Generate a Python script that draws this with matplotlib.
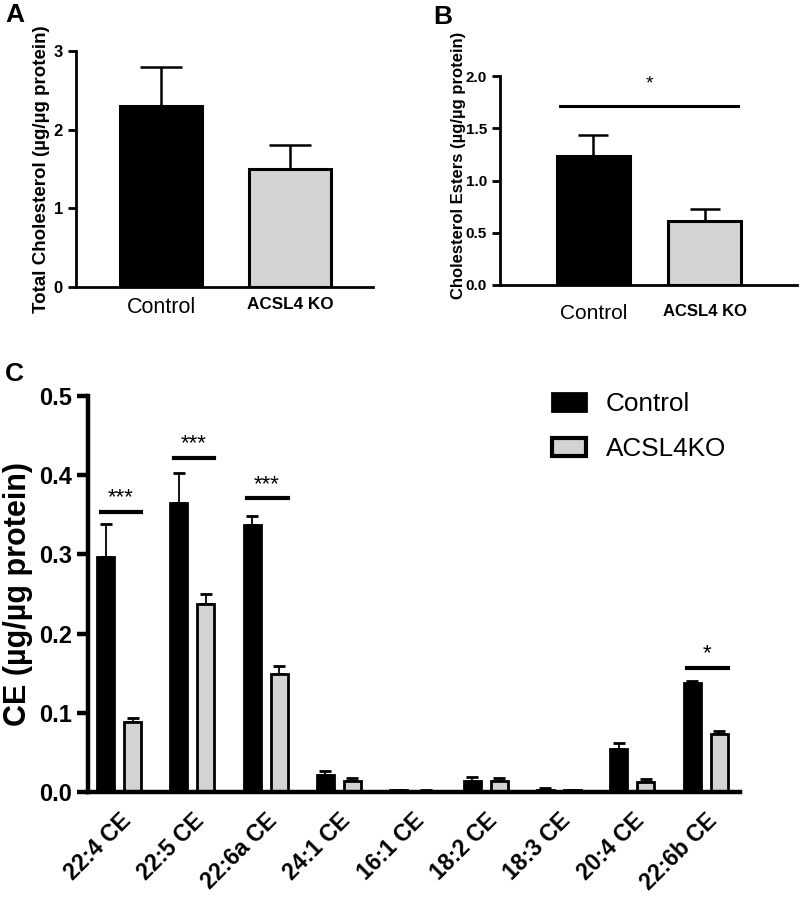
import matplotlib
matplotlib.use("Agg")
import matplotlib.pyplot as plt
import numpy as np
from matplotlib.patches import Patch

plt.rcParams['font.family'] = ['Liberation Sans', 'DejaVu Sans']

# Panel A data
a_groups = ["Control", "ACSL4 KO"]
a_means = [2.3, 1.5]
a_sem = [0.5, 0.3]

# Panel B data
b_groups = ["Control", "ACSL4 KO"]
b_means = [1.23, 0.61]
b_sem = [0.21, 0.12]

# Panel C data
species = ["22:4 CE", "22:5 CE", "22:6a CE", "24:1 CE", "16:1 CE",
           "18:2 CE", "18:3 CE", "20:4 CE", "22:6b CE"]
ctrl_means = [0.297, 0.365, 0.337, 0.022, 0.002, 0.014, 0.003, 0.054, 0.137]
ctrl_sem = [0.041, 0.038, 0.011, 0.005, 0.001, 0.005, 0.002, 0.008, 0.003]
ko_means = [0.088, 0.237, 0.149, 0.014, 0.001, 0.014, 0.002, 0.013, 0.073]
ko_sem = [0.005, 0.013, 0.010, 0.004, 0.001, 0.004, 0.001, 0.003, 0.004]
sig_idx = [0, 1, 2, 8]
sig_y = [0.354, 0.422, 0.371, 0.157]
sig_txt = ["***", "***", "***", "*"]

GREY = "#d3d3d3"
W, H = 800, 902
fig = plt.figure(figsize=(W / 100, H / 100), dpi=100)


def box(l, r, t, b):
    return [l / W, 1 - b / H, (r - l) / W, (b - t) / H]


def style(ax, lw, tl, fs):
    for s in ["top", "right"]:
        ax.spines[s].set_visible(False)
    for s in ["left", "bottom"]:
        ax.spines[s].set_linewidth(lw)
    ax.tick_params(axis="y", length=tl, width=lw, labelsize=fs, direction="out")
    ax.tick_params(axis="x", length=0)
    for t in ax.get_yticklabels():
        t.set_fontweight("bold")


# ---- A ----
axA = fig.add_axes(box(76, 373, 51, 287))
x = np.arange(2)
axA.bar(x, a_means, width=0.64, color=["black", GREY], edgecolor="black", linewidth=2.2, zorder=2)
axA.errorbar(x, a_means, yerr=[[0, 0], a_sem], fmt="none", ecolor="black",
             elinewidth=1.8, capsize=15, capthick=1.8, zorder=1)
axA.set_xlim(-0.659, 1.643)
axA.set_ylim(0, 3)
axA.set_yticks([0, 1, 2, 3])
axA.set_xticks(x)
axA.set_xticklabels(a_groups)
style(axA, 2, 6, 12)
tl = axA.get_xticklabels()
tl[0].set_fontsize(15.5)
tl[1].set_fontsize(12.3)
tl[1].set_fontweight("bold")
axA.tick_params(axis="x", pad=7)
axA.set_ylabel("Total Cholesterol (\u00b5g/\u00b5g protein)", fontsize=13.5, fontweight="bold")
axA.yaxis.set_label_coords(-0.087, 0.5)
fig.text(5 / W, 1 - 3 / H, "A", fontsize=19, fontweight="bold", va="top")

# ---- B ----
axB = fig.add_axes(box(500, 797, 76, 285))
axB.bar(x, b_means, width=0.65, color=["black", GREY], edgecolor="black", linewidth=2.2, zorder=2)
axB.errorbar(x, b_means, yerr=[[0, 0], b_sem], fmt="none", ecolor="black",
             elinewidth=1.8, capsize=11, capthick=1.8, zorder=1)
axB.set_xlim(-0.842, 1.833)
axB.set_ylim(0, 2.0)
axB.set_yticks([0, 0.5, 1.0, 1.5, 2.0])
axB.set_yticklabels(["0.0", "0.5", "1.0", "1.5", "2.0"])
axB.set_xticks(x)
axB.set_xticklabels(b_groups)
style(axB, 2, 6, 11)
tl = axB.get_xticklabels()
tl[0].set_fontsize(15)
tl[1].set_fontsize(12)
tl[1].set_fontweight("bold")
axB.tick_params(axis="x", pad=14)
axB.set_ylabel("Cholesterol Esters (\u00b5g/\u00b5g protein)", fontsize=12, fontweight="bold")
axB.yaxis.set_label_coords(-0.115, 0.574)
axB.plot([-0.3, 1.3], [1.71, 1.71], color="black", lw=2.2, clip_on=False)
axB.text(0.5, 1.84, "*", ha="center", va="bottom", fontsize=14)
fig.text(433 / W, 1 - 5 / H, "B", fontsize=19, fontweight="bold", va="top")

# ---- C ----
axC = fig.add_axes(box(88, 740, 396, 792))
xc = np.arange(len(species))
off, bw = 0.184, 0.232
axC.bar(xc - off, ctrl_means, width=bw, color="black", edgecolor="black", linewidth=2, zorder=2,
        label="Control")
axC.bar(xc + off, ko_means, width=bw, color=GREY, edgecolor="black", linewidth=2, zorder=2,
        label="ACSL4KO")
axC.errorbar(xc - off, ctrl_means, yerr=[np.zeros(len(xc)), ctrl_sem], fmt="none",
             ecolor="black", elinewidth=1.3, capsize=4.5, capthick=2, zorder=1)
axC.errorbar(xc + off, ko_means, yerr=[np.zeros(len(xc)), ko_sem], fmt="none",
             ecolor="black", elinewidth=1.3, capsize=4.5, capthick=2, zorder=1)
axC.set_xlim(-0.423, 8.47)
axC.set_ylim(0, 0.5)
axC.set_yticks([0, 0.1, 0.2, 0.3, 0.4, 0.5])
axC.set_yticklabels(["0.0", "0.1", "0.2", "0.3", "0.4", "0.5"])
axC.set_xticks(xc)
axC.set_xticklabels(species, rotation=45, ha="right", rotation_mode="anchor",
                    fontsize=16.5, fontweight="bold")
style(axC, 3.2, 8, 17)
axC.tick_params(axis="x", pad=12)
axC.set_ylabel("CE (\u00b5g/\u00b5g protein)", fontsize=22, fontweight="bold")
axC.yaxis.set_label_coords(-0.084, 0.5)
for i, yv, s in zip(sig_idx, sig_y, sig_txt):
    axC.plot([i - 0.25, i + 0.3], [yv, yv], color="black", lw=3, clip_on=False)
    axC.text(i + 0.02, yv + 0.004, s, ha="center", va="bottom", fontsize=16)
hand = [Patch(facecolor="black", edgecolor="black", linewidth=2, label="Control"),
        Patch(facecolor=GREY, edgecolor="black", linewidth=3, label="ACSL4KO")]
fig.legend(handles=hand, loc="upper left", bbox_to_anchor=(552 / W, 1 - 392 / H),
           frameon=False, fontsize=18.8, handlelength=1.3, handleheight=0.7,
           handletextpad=0.75, labelspacing=0.8, borderpad=0, borderaxespad=0)
fig.text(5 / W, 1 - 362 / H, "C", fontsize=19, fontweight="bold", va="top")

fig.savefig("out.png", dpi=100)
